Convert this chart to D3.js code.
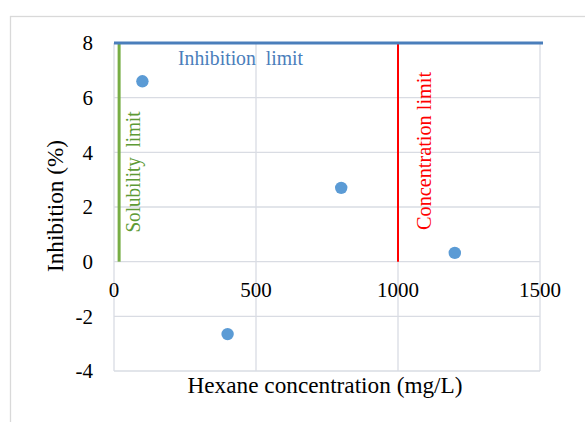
<!DOCTYPE html>
<html><head><meta charset="utf-8">
<script src="https://cdn.jsdelivr.net/npm/d3@7"></script>
<style>body{margin:0;background:#fff}svg{display:block}text{font-family:"Liberation Serif","Times New Roman",serif}</style>
</head><body><div id="chart"></div>
<script>
const concentration = [100, 400, 800, 1200];
const inhibition = [6.6, -2.65, 2.7, 0.32];
const xTicks = [0, 500, 1000, 1500];
const yTicks = [-4, -2, 0, 2, 4, 6, 8];
const inhibitionLimit = 8;
const solubilityLimit = 18;
const concentrationLimit = 1000;

const W = 585, H = 422;
const svg = d3.select("#chart").append("svg").attr("width", W).attr("height", H);
svg.append("rect").attr("x", 10.5).attr("y", 16.5).attr("width", 620).attr("height", 440)
  .attr("fill", "#fff").attr("stroke", "#d9d9d9").attr("stroke-width", 1.3);

const x = d3.scaleLinear().domain([0, 1500]).range([114, 540]);
const y = d3.scaleLinear().domain([-4, 8]).range([371, 43]);
const grid = "#d9dce3";

svg.append("g").selectAll("line").data(yTicks).join("line")
  .attr("x1", x(0)).attr("x2", x(1500)).attr("y1", d => y(d)).attr("y2", d => y(d))
  .attr("stroke", grid).attr("stroke-width", 1.3);
svg.append("g").selectAll("line").data(xTicks).join("line")
  .attr("x1", d => x(d)).attr("x2", d => x(d)).attr("y1", y(-4)).attr("y2", y(8))
  .attr("stroke", grid).attr("stroke-width", 1.3);

// y tick labels
svg.append("g").selectAll("text").data(yTicks).join("text")
  .attr("x", 93).attr("y", d => y(d)).attr("dy", "0.35em").attr("text-anchor", "end")
  .attr("font-size", 21).attr("fill", "#000").text(d => d);
// x tick labels
svg.append("g").selectAll("text").data(xTicks).join("text")
  .attr("x", d => x(d)).attr("y", 297).attr("text-anchor", "middle")
  .attr("font-size", 21).attr("fill", "#000").text(d => d);

// limit lines
svg.append("line").attr("x1", x(solubilityLimit)).attr("x2", x(solubilityLimit))
  .attr("y1", y(0)).attr("y2", y(8)).attr("stroke", "#77ad45").attr("stroke-width", 3);
svg.append("line").attr("x1", x(concentrationLimit)).attr("x2", x(concentrationLimit))
  .attr("y1", y(0)).attr("y2", y(8)).attr("stroke", "#ff0000").attr("stroke-width", 2);
svg.append("line").attr("x1", x(0)).attr("x2", x(1500) + 3)
  .attr("y1", y(inhibitionLimit)).attr("y2", y(inhibitionLimit))
  .attr("stroke", "#4a7ebb").attr("stroke-width", 3);

// points
svg.append("g").selectAll("circle").data(concentration).join("circle")
  .attr("cx", d => x(d)).attr("cy", (d, i) => y(inhibition[i])).attr("r", 6.2)
  .attr("fill", "#5b9bd5");

// annotations
svg.append("text").attr("x", 178).attr("y", 65).attr("font-size", 20).attr("fill", "#4a7ebb")
  .style("white-space", "pre").attr("textLength", 125).attr("lengthAdjust", "spacingAndGlyphs")
  .text("Inhibition  limit");
svg.append("text").attr("transform", "translate(140,172) rotate(-90)").attr("text-anchor", "middle")
  .attr("font-size", 20).attr("fill", "#5e9a35").style("white-space", "pre")
  .attr("textLength", 121).attr("lengthAdjust", "spacingAndGlyphs").text("Solubility  limit");
svg.append("text").attr("transform", "translate(431,151) rotate(-90)").attr("text-anchor", "middle")
  .attr("font-size", 20).attr("fill", "#ff0000")
  .attr("textLength", 158).attr("lengthAdjust", "spacingAndGlyphs").text("Concentration limit");

// axis titles
svg.append("text").attr("x", 325).attr("y", 393).attr("text-anchor", "middle")
  .attr("font-size", 23).attr("fill", "#000")
  .attr("textLength", 275).attr("lengthAdjust", "spacingAndGlyphs").text("Hexane concentration (mg/L)");
svg.append("text").attr("transform", "translate(63,206) rotate(-90)").attr("text-anchor", "middle")
  .attr("font-size", 23).attr("fill", "#000")
  .attr("textLength", 132).attr("lengthAdjust", "spacingAndGlyphs").text("Inhibition (%)");
</script></body></html>
